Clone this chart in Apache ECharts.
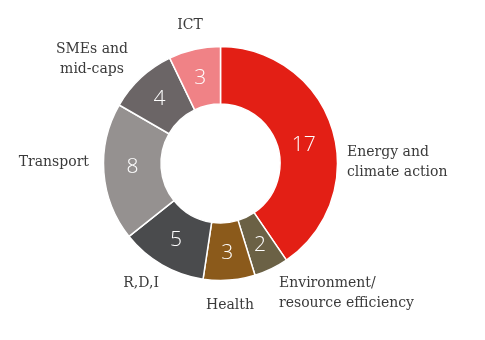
<!DOCTYPE html>
<html><head><meta charset="utf-8">
<script src="https://cdn.jsdelivr.net/npm/echarts@6/dist/echarts.min.js"></script>
<style>html,body{margin:0;padding:0;background:#fff}#c{width:485px;height:340px}</style>
</head><body><div id="c"></div>
<script>
const categories = ["Energy and\nclimate action","Environment/\nresource efficiency","Health","R,D,I","Transport","SMEs and\nmid-caps","ICT"];
const values = [17,2,3,5,8,4,3];
const colors = ["#e31f15","#6b6145","#8b5a1b","#4a4b4d","#959190","#6b6566","#f08286"];
// category label anchor positions (px) and alignment
const labelPos = [[347,162,'left'],[279,293,'left'],[230,305,'center'],[159,283,'right'],[89,162,'right'],[92,59,'center'],[190,25,'center']];
const valueOffsets = [[-4,8],[0,-1],[0,-1],[1,-3],[3,-3],[1,2],[0,3]];

const chart = echarts.init(document.getElementById('c'));
const txt = {fontFamily:'DejaVu Serif', fontSize:14, fill:'#3a3a3a', lineHeight:20};
chart.setOption({
  animation:false,
  series:[{
    type:'pie',
    center:[220.5,163.5],
    radius:[59.5,117],
    startAngle:90,
    clockwise:true,
    label:{show:true,position:'inside',formatter:'{c}',color:'#fff',fontFamily:'Open Sans',fontWeight:300,fontSize:21},
    labelLine:{show:false},
    itemStyle:{borderColor:'#fff',borderWidth:1.5},
    emphasis:{disabled:true},
    data: categories.map((n,i)=>({name:n,value:values[i],itemStyle:{color:colors[i]},label:{offset:valueOffsets[i]}}))
  }],
  graphic: categories.map((n,i)=>({
    type:'text', x:labelPos[i][0], y:labelPos[i][1],
    style:Object.assign({text:n, align:labelPos[i][2], verticalAlign:'middle'}, txt)
  }))
});
</script></body></html>
